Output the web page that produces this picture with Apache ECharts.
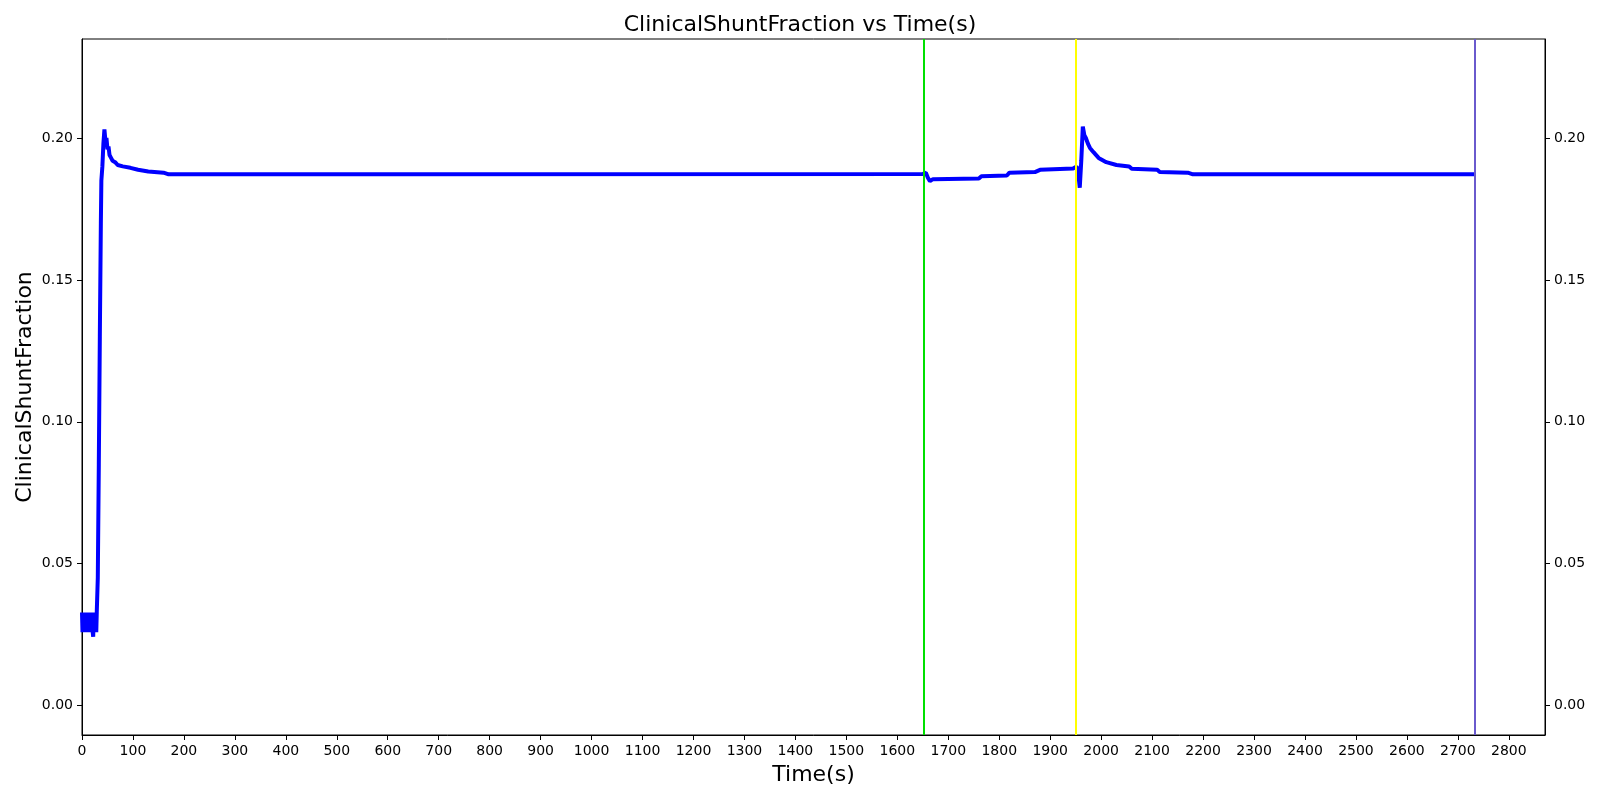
<!DOCTYPE html>
<html>
<head>
<meta charset="utf-8">
<script src="https://cdn.jsdelivr.net/npm/echarts@6/dist/echarts.min.js"></script>
<style>html,body{margin:0;padding:0;background:#fff;}#c{width:1600px;height:800px;}</style>
</head>
<body>
<div id="c"></div>
<script>
const titleText = 'ClinicalShuntFraction vs Time(s)';
const xName = 'Time(s)';
const yName = 'ClinicalShuntFraction';
const xTicks = [0,100,200,300,400,500,600,700,800,900,1000,1100,1200,1300,1400,1500,1600,1700,1800,1900,2000,2100,2200,2300,2400,2500,2600,2700,2800];
const yTicks = [0, 0.05, 0.10, 0.15, 0.20];
const times = [0,1,2,3,4,5,6,7,8,9,10,11,12,13,14,15,16,17,18,19,20,21,22,23,24,25,26,27,28,
  29,31,33,35,37,38,40,42,44,46,48,50,52,54,57,60,65,70,80,95,110,130,160,170,600,1650,
  1656,1660,1664,1670,1760,1765,1815,1820,1870,1880,1945,1952,1956,1958,1961,1964,1967,1970,
  1974,1978,1985,1995,2010,2030,2055,2060,2110,2115,2170,2180,2734];
const values = [0.0328,0.0258,0.0328,0.0258,0.0328,0.0258,0.0328,0.0258,0.0328,0.0258,0.0328,0.0258,0.0328,0.0258,0.0328,0.0258,0.0328,0.0258,0.0328,0.0258,0.0328,0.0258,0.0242,0.0328,0.0258,0.0328,0.0258,0.0328,0.0258,
  0.033,0.045,0.085,0.13,0.17,0.185,0.190,0.198,0.203,0.199,0.200,0.196,0.197,0.194,0.193,0.192,0.1915,0.1905,0.190,0.1895,0.1888,0.1882,0.1878,0.1872,0.1872,0.1873,
  0.1878,0.186,0.1848,0.1855,0.1857,0.1865,0.1868,0.1878,0.188,0.1888,0.1893,0.190,0.186,0.1825,0.192,0.204,0.201,0.200,
  0.198,0.1965,0.195,0.193,0.1915,0.1905,0.190,0.1892,0.1888,0.188,0.1878,0.1872,0.1872];
const eventTimes = [1652, 1951, 2734];
const eventColors = ['#00e000', '#ffff00', '#6a5acd'];

const data = times.map((t, i) => [t, values[i]]);
const font = 'DejaVu Sans';
const yAxisBase = {
  type: 'value', min: -0.0104, max: 0.2349,
  splitLine: {show: false},
  axisLine: {show: true, lineStyle: {color: '#000', width: 1}},
  axisTick: {show: true, inside: false, length: 5, lineStyle: {color: '#000'}, customValues: yTicks},
  axisLabel: {show: true, color: '#000', fontSize: 14, fontFamily: font, margin: 9, customValues: yTicks,
    formatter: v => v.toFixed(2)}
};
const chart = echarts.init(document.getElementById('c'));
chart.setOption({
  animation: false,
  backgroundColor: '#fff',
  title: {text: titleText, left: 'center', top: 9,
    textStyle: {fontFamily: font, fontSize: 22, fontWeight: 'normal', color: '#000'}},
  grid: {left: 82, right: 55, top: 39, bottom: 65, show: true, borderColor: '#000', borderWidth: 1, backgroundColor: 'transparent'},
  xAxis: {
    type: 'value', min: 0, max: 2871,
    name: xName, nameLocation: 'middle', nameGap: 29,
    nameTextStyle: {fontFamily: font, fontSize: 22, color: '#000'},
    splitLine: {show: false},
    axisLine: {show: true, onZero: false, lineStyle: {color: '#000'}},
    axisTick: {show: true, length: 5, lineStyle: {color: '#000'}, customValues: xTicks},
    axisLabel: {color: '#000', fontSize: 14, fontFamily: font, margin: 9, customValues: xTicks,
      formatter: v => String(v)}
  },
  yAxis: [
    Object.assign({}, yAxisBase, {position: 'left', name: yName, nameLocation: 'middle', nameGap: 46,
      nameMoveOverlap: false,
      nameTextStyle: {fontFamily: font, fontSize: 22, color: '#000'}}),
    Object.assign({}, yAxisBase, {position: 'right'})
  ],
  series: [{
    type: 'line', data: data, showSymbol: false, symbol: 'none',
    lineStyle: {color: '#0000ff', width: 4}, itemStyle: {color: '#0000ff'},
    markLine: {
      silent: true, symbol: ['none', 'none'], label: {show: false},
      data: eventTimes.map((t, i) => ({xAxis: t, lineStyle: {color: eventColors[i], width: 2, type: 'solid'}}))
    }
  }]
});
</script>
</body>
</html>
